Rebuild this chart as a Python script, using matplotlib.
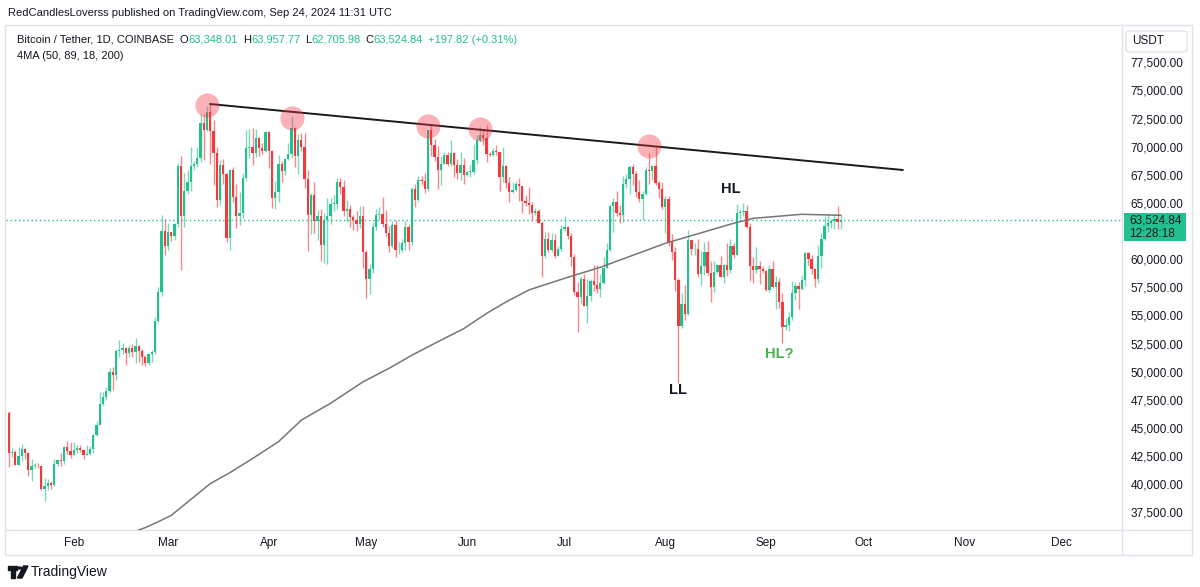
import datetime as dt
import numpy as np
import pandas as pd
import matplotlib
matplotlib.use("Agg")
import matplotlib.pyplot as plt
import matplotlib.dates as mdates
from matplotlib.patches import Rectangle, FancyBboxPatch, Polygon, Circle
from matplotlib.lines import Line2D

plt.rcParams['font.family'] = ['Liberation Sans', 'DejaVu Sans']

# ---------------- data ----------------
first_day = "2024-01-12"
last_day = "2024-09-24"
first_open = 46340.0

closes = [
    # Jan 12-31
    42780, 42850, 41730, 42500, 43150, 42740, 41270, 41620, 41660, 41580,
    39530, 39840, 40080, 39930, 41810, 42120, 42030, 43300, 42940, 42580,
    # Feb
    43080, 43190, 43000, 42580, 42660, 43090, 44340, 45290, 47130, 47770,
    48290, 49960, 49700, 51800, 51920, 52140, 51660, 52120, 51780, 52280,
    51850, 51300, 50740, 51570, 51730, 54480, 57080, 62500, 61200,
    # Mar
    62440, 62030, 63150, 68300, 63800, 66100, 66900, 68300, 68500, 69000,
    72100, 71450, 73100, 71400, 69400, 65300, 68390, 67600, 61900, 67900,
    65500, 63800, 64100, 67200, 69900, 69980, 69450, 70750, 69900, 69650, 71300,
    # Apr
    69650, 65450, 65960, 68500, 67840, 68900, 69360, 71620, 69140, 70600,
    70000, 67100, 63900, 65700, 63420, 63800, 61280, 63470, 63800, 64940,
    64940, 66840, 66400, 64290, 64500, 63770, 63460, 63110, 63840, 60640,
    # May
    58250, 59100, 62890, 63890, 64030, 63160, 62330, 61190, 63070, 60800,
    60820, 61450, 62900, 61550, 66270, 65230, 67050, 66940, 66280, 71450,
    70140, 69120, 67930, 68500, 69280, 68500, 69400, 68360, 67620, 68350, 67480,
    # Jun
    67750, 67760, 68800, 70560, 71080, 70790, 69350, 69300, 69650, 69500,
    67320, 68240, 66750, 66010, 66190, 66640, 66490, 65160, 64960, 64830,
    64100, 64250, 63180, 60280, 61800, 60860, 61670, 60320, 60890, 62680,
    # Jul
    62850, 62030, 60200, 57050, 56630, 58230, 55850, 56700, 58040, 57720,
    57340, 57890, 59200, 60800, 64700, 65040, 64090, 63970, 66700, 67150,
    68170, 67550, 65930, 65370, 65800, 67900, 67850, 68250, 66790, 66200, 64620,
    # Aug
    65350, 61500, 60680, 58110, 54020, 56040, 55130, 61700, 60880, 60930,
    58710, 59350, 60600, 58740, 57560, 58870, 59480, 58450, 59490, 59010,
    61160, 60380, 64100, 64180, 64260, 62830, 59420, 59030, 59370, 59120, 58970,
    # Sep 1-24
    57300, 59130, 57490, 57970, 56160, 53950, 54140, 54840, 57020, 57630,
    57340, 58130, 60540, 60000, 59130, 58210, 60310, 61760, 62950, 63200,
    63350, 63580, 63348.01, 63524.84,
]

highs = [
    46500, 43250, 43000, 43300, 43580, 43200, 42900, 42200, 41850, 41900,
    41650, 40550, 40500, 40250, 42200, 42200, 42800, 43350, 43850, 43750,
    43750, 43450, 43500, 43100, 43500, 43400, 44500, 45600, 48200, 48150,
    48600, 50300, 50400, 52000, 52800, 52550, 52200, 52400, 52450, 52950,
    52400, 52000, 51500, 51700, 51950, 54900, 57500, 63900, 63600,
    63200, 62450, 63250, 68550, 69200, 67650, 67950, 69950, 68700, 69950,
    72900, 72900, 73650, 73800, 72400, 70000, 68850, 68900, 67650, 68050,
    68150, 66700, 65950, 67650, 71500, 71550, 71700, 71550, 70900, 70300, 71350,
    71350, 69700, 66950, 69250, 68700, 69000, 70300, 72750, 71750, 71150,
    71250, 71200, 67900, 65850, 66850, 64350, 64500, 64100, 65450, 65400,
    65700, 67200, 67200, 67050, 65250, 64800, 63900, 64300, 64700, 64700,
    60800, 59600, 63300, 64500, 64600, 65500, 64400, 62950, 63400, 63450,
    61500, 61800, 63400, 63100, 66450, 66700, 67400, 67400, 67700, 71500,
    71950, 70650, 70100, 69200, 69500, 69500, 70600, 69550, 68900, 69500, 69000,
    67850, 68400, 70250, 71000, 71750, 71600, 71950, 69550, 69850, 70150,
    69550, 69950, 68350, 67300, 66900, 66950, 67200, 66500, 65700, 66450,
    65050, 64550, 64500, 63400, 62400, 62450, 62300, 62200, 61200, 63000,
    63800, 62950, 62300, 60500, 58000, 58400, 58700, 58250, 58250, 59450,
    59500, 58650, 60200, 61450, 64900, 65400, 66100, 64850, 67400, 67600,
    68350, 68450, 67800, 67050, 66100, 68200, 69400, 68300, 70000, 66950, 66900,
    65600, 65600, 62200, 61100, 58300, 57000, 57700, 62600, 61700, 61400,
    61800, 60700, 61500, 61600, 59800, 59800, 59600, 60250, 59600, 61400,
    61800, 61400, 64900, 64500, 65000, 64800, 63200, 60200, 61100, 59800, 59400,
    59000, 59500, 59800, 58500, 58300, 56950, 54800, 55300, 58100, 58000,
    57950, 58600, 60650, 60600, 60400, 59200, 61300, 62300, 63800, 64100,
    63550, 64000, 64750, 63957.77,
]

lows = [
    41500, 42450, 41700, 41700, 42050, 42200, 40700, 40300, 41400, 41450,
    39450, 38500, 39500, 39550, 39850, 41650, 41650, 41800, 42700, 42300,
    42600, 42800, 42900, 42250, 42550, 42600, 42800, 44300, 45300, 46950,
    47500, 48200, 48400, 49300, 51300, 51600, 50600, 51300, 51300, 50800,
    50900, 50600, 50500, 50600, 50900, 51600, 54450, 56700, 60400,
    60800, 61650, 61700, 62900, 59000, 62900, 65800, 66100, 67950, 68200,
    68600, 68800, 71350, 68500, 66600, 64600, 64850, 66700, 61550, 60800,
    65100, 62800, 63050, 63700, 66950, 69000, 68400, 69100, 69200, 69350, 69550,
    68100, 64550, 64500, 65100, 66900, 67500, 68850, 69000, 68200, 67600,
    69600, 66300, 60700, 62250, 62350, 61700, 59800, 59700, 59600, 63100,
    64300, 64500, 65800, 63800, 63300, 62900, 62600, 62500, 62800, 59200,
    56550, 56900, 58800, 62600, 63450, 62900, 62100, 60600, 60950, 60200,
    60500, 60600, 60800, 60850, 61300, 64600, 65100, 66600, 65900, 66100,
    69200, 68700, 66200, 66600, 68500, 68300, 68300, 67300, 67100, 67000, 66650,
    67400, 67300, 67600, 68500, 70400, 70150, 68600, 69200, 69150, 69250,
    66100, 66900, 66300, 65100, 65850, 66050, 65200, 64100, 64700, 64050,
    63400, 63900, 63200, 58400, 60100, 60600, 60600, 60100, 60400, 60700,
    62500, 61800, 59400, 56800, 53500, 56000, 55800, 54300, 56300, 57200,
    57000, 56600, 57800, 59500, 60700, 62400, 63800, 63200, 63300, 66300,
    65800, 66600, 65550, 65100, 63500, 65700, 66700, 67050, 66600, 65400, 64500,
    62300, 61200, 59900, 57200, 49000, 53900, 54600, 55000, 60400, 60400,
    58400, 57700, 58600, 58600, 56200, 57100, 58800, 58450, 57900, 58500,
    58800, 60100, 60400, 63600, 63800, 62800, 58100, 57900, 58800, 57800, 58800,
    57200, 57100, 57400, 55600, 55700, 52550, 53700, 53600, 54600, 56400,
    55550, 57300, 57600, 59500, 58700, 57500, 57900, 59200, 61700, 62400,
    62800, 62700, 62700, 62705.98,
]

# 200-day moving average, sampled off the grey curve
ma_dates = ["2024-02-15", "2024-02-23", "2024-02-27", "2024-03-02", "2024-03-14",
            "2024-03-20", "2024-03-27", "2024-04-04", "2024-04-11", "2024-04-20",
            "2024-04-30", "2024-05-08", "2024-05-15", "2024-05-23", "2024-05-31",
            "2024-06-07", "2024-06-13", "2024-06-20", "2024-06-26", "2024-07-02",
            "2024-07-12", "2024-08-01", "2024-08-22", "2024-08-28", "2024-09-12",
            "2024-09-24"]
ma_values = [35300, 36140, 36660, 37230, 40050,
             41020, 42280, 43780, 45690, 47190,
             49100, 50300, 51460, 52660, 53830,
             55180, 56200, 57260, 57830, 58390,
             59280, 61410, 63190, 63630, 63990,
             63900]

# touches of the resistance line
peak_dates = ["2024-03-13", "2024-04-08", "2024-05-20", "2024-06-05", "2024-07-27"]
peak_prices = [73700, 72540, 71830, 71570, 70060]

trend_dates = ["2024-03-14", "2024-10-13"]
trend_prices = [73790, 67930]

notes = ["HL", "LL", "HL?"]
note_dates = ["2024-08-21", "2024-08-05", "2024-09-05"]
note_prices = [66230, 48360, 51560]

last_price = 63524.84
price_ticks = [37500, 40000, 42500, 45000, 47500, 50000, 52500, 55000,
               57500, 60000, 65000, 67500, 70000, 72500, 75000, 77500]
month_starts = ["2024-02-01", "2024-03-01", "2024-04-01", "2024-05-01", "2024-06-01",
                "2024-07-01", "2024-08-01", "2024-09-01", "2024-10-01", "2024-11-01",
                "2024-12-01"]
month_labels = ["Feb", "Mar", "Apr", "May", "Jun", "Jul", "Aug", "Sep", "Oct", "Nov", "Dec"]

# ---------------- styling ----------------
UP = "#22c08e"
DOWN = "#f5383c"
TXT = "#131722"
BORDER = "#e0e3eb"

W, H = 1200, 587


def fx(px):
    return px / W


def fy(py):
    return 1 - py / H


def dnum(s):
    return mdates.date2num(pd.Timestamp(s))


fig = plt.figure(figsize=(W / 100, H / 100), dpi=100)
fig.patch.set_facecolor("white")
ax = fig.add_axes([fx(6), fy(530), (1122 - 6) / W, (530 - 25) / H])

# candles
dates = pd.date_range(first_day, last_day, freq="D")
x = mdates.date2num(dates)
c = np.array(closes, dtype=float)
o = np.array([first_open] + closes[:-1], dtype=float)
hi = np.maximum(np.array(highs, dtype=float), np.maximum(o, c))
lo = np.minimum(np.array(lows, dtype=float), np.minimum(o, c))
cols = np.where(c >= o, UP, DOWN)

ax.vlines(x, lo, hi, colors=cols, linewidth=1.0, alpha=0.6, zorder=2)
ax.bar(x, np.maximum(np.abs(c - o), 60), bottom=np.minimum(o, c), width=0.72,
       color=cols, linewidth=0, zorder=3)

# 200 MA
ax.plot([dnum(d) for d in ma_dates], ma_values, color="#767676", linewidth=1.1,
        solid_joinstyle="round", zorder=4)

# last price dotted line
ax.axhline(last_price, color=UP, linestyle=(0, (1, 2)), linewidth=1.0, zorder=1)

# resistance line + touches
ax.plot([dnum(d) for d in trend_dates], trend_prices, color="#1a1a1a", linewidth=1.4, zorder=5)
ax.scatter([dnum(d) for d in peak_dates], peak_prices, s=300, color="#f23645",
           alpha=0.38, linewidths=0, zorder=6)

# annotations
note_colors = [TXT, TXT, "#4caf50"]
for t, d, p, col in zip(notes, note_dates, note_prices, note_colors):
    ax.text(dnum(d), p, t, color=col, fontsize=10.5, fontweight="bold",
            ha="center", va="center", zorder=7)

# axes
day0 = dnum("2024-01-01")
ax.set_xlim(day0 + 10.15, day0 + 353.5)
ax.set_ylim(35927, 80816)
for side in ["top", "left"]:
    ax.spines[side].set_visible(False)
for side in ["bottom", "right"]:
    ax.spines[side].set_color(BORDER)
    ax.spines[side].set_linewidth(1)

ax.set_xticks([dnum(d) for d in month_starts])
ax.set_xticklabels(month_labels)
ax.tick_params(axis="x", length=0, pad=5, labelsize=8.5, labelcolor=TXT)

ax.yaxis.tick_right()
ax.set_yticks(price_ticks)
ax.set_yticklabels([f"{v:,.2f}" for v in price_ticks])
ax.tick_params(axis="y", length=0, pad=6, labelsize=8.5, labelcolor=TXT)

# chart frame
fig.add_artist(Rectangle((fx(5), fy(555)), (1192 - 5) / W, (555 - 25) / H,
                         transform=fig.transFigure, fill=False, edgecolor=BORDER, linewidth=1))
fig.add_artist(Line2D([fx(1122), fx(1122)], [fy(530), fy(555)], color=BORDER, linewidth=1))
fig.add_artist(Line2D([fx(1122), fx(1192)], [fy(530), fy(530)], color=BORDER, linewidth=1))

# last price label
fig.add_artist(Rectangle((fx(1124), fy(241)), 62 / W, 28 / H, transform=fig.transFigure,
                         facecolor=UP, edgecolor="none"))
fig.text(fx(1129), fy(220), f"{last_price:,.2f}", fontsize=8.5, color=TXT, va="center")
fig.text(fx(1129), fy(234), "12:28:18", fontsize=8.5, color=TXT, va="center")

# currency box
fig.add_artist(FancyBboxPatch((fx(1126), fy(52)), 61 / W, 21 / H,
                              boxstyle="round,pad=0,rounding_size=0.004",
                              transform=fig.transFigure, facecolor="white",
                              edgecolor=BORDER, linewidth=1))
fig.text(fx(1132), fy(41.5), "USDT", fontsize=8.5, color=TXT, va="center")

# header
fig.text(fx(8), fy(13), "RedCandlesLoverss published on TradingView.com, Sep 24, 2024 11:31 UTC",
         fontsize=8, color=TXT, va="center")

# legend
segments = [("Bitcoin / Tether, 1D, COINBASE", TXT, 6),
            ("O", TXT, 0), ("63,348.01", UP, 5),
            ("H", TXT, 0), ("63,957.77", UP, 5),
            ("L", TXT, 0), ("62,705.98", UP, 5),
            ("C", TXT, 0), ("63,524.84", UP, 5),
            ("+197.82 (+0.31%)", UP, 0)]
renderer = fig.canvas.get_renderer()
cx = 17
for s, col, gap in segments:
    t = fig.text(fx(cx), fy(40), s, fontsize=8, color=col, va="center")
    cx += t.get_window_extent(renderer).width + gap
fig.text(fx(17), fy(56), "4MA (50, 89, 18, 200)", fontsize=8, color=TXT, va="center")

# footer logo
logo = "#131722"
fig.add_artist(Polygon([(fx(8), fy(566)), (fx(17), fy(566)), (fx(17), fy(570)), (fx(14.5), fy(570)),
                        (fx(14.5), fy(578)), (fx(11), fy(578)), (fx(11), fy(570)), (fx(8), fy(570))],
                       closed=True, transform=fig.transFigure, color=logo))
fig.add_artist(Circle((fx(19.5), fy(568)), 2 / W, transform=fig.transFigure, color=logo))
fig.add_artist(Polygon([(fx(23.5), fy(566)), (fx(28), fy(566)), (fx(22), fy(578)), (fx(17.5), fy(578))],
                       closed=True, transform=fig.transFigure, color=logo))
fig.text(fx(31), fy(572), "TradingView", fontsize=10, color=TXT, va="center")

fig.savefig("out.png", dpi=100)
